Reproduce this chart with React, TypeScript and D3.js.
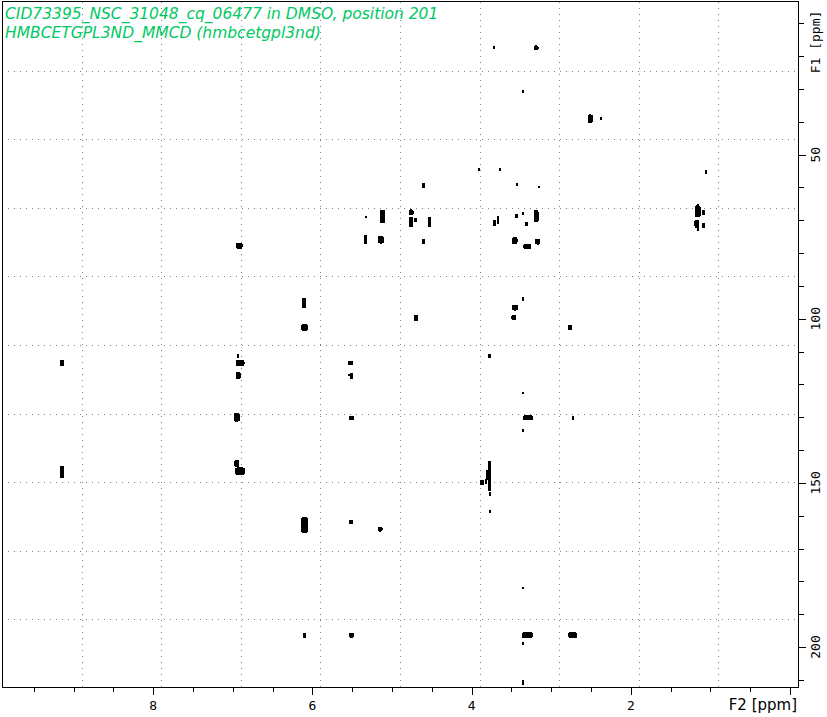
import React from "react";
import * as d3 from "d3";

// ---- data ----
const titleLines = [
  "CID73395_NSC_31048_cq_06477 in DMSO, position 201",
  "HMBCETGPL3ND_MMCD (hmbcetgpl3nd)",
];
const f2Domain = [9.9, -0.1]; // ppm (1H)
const f1Domain = [3.5, 212.5]; // ppm (13C)
const f2MajorTicks = [8, 6, 4, 2, 0];
const f2LabelTicks = [8, 6, 4, 2];
const f1MajorTicks = [50, 100, 150, 200];

// cross peaks: F2 shift, F1 shift, F2 extent, F1 extent (ppm)
const peakF2 = [
  3.72, 3.19, 3.36, 2.51, 2.38, 3.91, 3.64, 4.6, 3.43, 3.15, 1.06,
  5.33, 5.12, 4.76, 4.76, 4.7, 4.53, 5.33, 5.14, 4.61, 3.71, 3.67, 3.44, 3.36, 3.31, 3.19,
  3.46, 3.3, 3.17, 1.16, 1.085, 1.17, 1.09, 1.16, 1.16, 6.92,
  6.1, 6.1, 4.7, 3.36, 3.455, 3.47, 2.76,
  6.94, 6.91, 6.93, 5.52, 5.51, 5.54, 3.78, 3.36,
  6.95, 5.51, 3.29, 2.73, 3.36, 9.15, 9.15, 6.95, 6.91,
  6.1, 5.52, 5.15, 3.78, 3.79, 3.87, 3.82, 3.77, 3.77,
  3.355, 6.1, 5.51, 3.3, 3.355, 2.73, 3.355,
];
const peakF1 = [
  17.5, 17.5, 30.9, 39.1, 39.1, 54.6, 54.6, 59.5, 59.2, 59.8, 55.4,
  69.0, 68.8, 67.6, 70.5, 69.8, 70.4, 75.9, 75.9, 76.5, 70.9, 69.8, 68.6, 68.0, 71.2, 68.8,
  76.2, 78.0, 76.5, 67.3, 67.7, 71.1, 71.5, 65.6, 72.9, 77.8,
  95.1, 102.7, 99.8, 93.9, 96.6, 99.6, 102.7,
  111.3, 113.5, 117.3, 113.5, 117.4, 117.1, 111.3, 122.5,
  130.0, 130.2, 130.2, 130.1, 134.0, 113.5, 146.6, 144.1, 146.5,
  162.8, 161.9, 164.1, 147.9, 147.5, 149.8, 149.5, 153.5, 158.7,
  181.9, 196.4, 196.4, 196.4, 198.9, 196.4, 210.8,
];
const peakWidthF2 = [
  0.025, 0.063, 0.025, 0.063, 0.025, 0.025, 0.025, 0.038, 0.025, 0.025, 0.025,
  0.025, 0.075, 0.063, 0.05, 0.038, 0.038, 0.038, 0.075, 0.038, 0.038, 0.025, 0.038, 0.025, 0.038, 0.063,
  0.075, 0.1, 0.063, 0.075, 0.038, 0.063, 0.038, 0.025, 0.025, 0.088,
  0.05, 0.088, 0.05, 0.025, 0.075, 0.063, 0.05,
  0.025, 0.113, 0.063, 0.063, 0.038, 0.02, 0.038, 0.025,
  0.075, 0.063, 0.126, 0.025, 0.025, 0.05, 0.05, 0.063, 0.126,
  0.088, 0.05, 0.063, 0.04, 0.063, 0.038, 0.025, 0.025, 0.025,
  0.025, 0.038, 0.063, 0.138, 0.025, 0.113, 0.025,
];
const peakWidthF1 = [
  0.9, 1.5, 0.9, 2.7, 0.9, 0.9, 0.9, 1.5, 0.9, 0.6, 1.2,
  0.9, 4.0, 1.8, 3.0, 1.2, 3.0, 2.7, 2.4, 1.5, 1.8, 2.4, 1.2, 0.9, 1.2, 3.7,
  2.1, 1.8, 1.8, 3.7, 1.5, 2.4, 1.5, 0.9, 0.9, 1.8,
  3.0, 2.1, 1.8, 1.2, 1.8, 1.5, 1.5,
  1.2, 2.1, 2.1, 1.2, 1.8, 0.6, 1.2, 0.6,
  2.7, 1.2, 1.5, 1.2, 0.9, 1.8, 3.7, 2.1, 2.4,
  4.9, 1.2, 1.5, 9.1, 3.0, 1.5, 1.5, 1.2, 0.9,
  0.6, 1.5, 1.5, 1.8, 0.9, 1.8, 1.5,
];

const W = 827;
const H = 717;
const M = { left: 2, top: 2, right: 798, bottom: 688 };

export default function App() {
  const x = d3.scaleLinear().domain(f2Domain).range([M.left, M.right]);
  const y = d3.scaleLinear().domain(f1Domain).range([M.top, M.bottom]);

  const ix = d3.interpolateNumber(f2Domain[0], f2Domain[1]);
  const iy = d3.interpolateNumber(f1Domain[0], f1Domain[1]);
  const gridF2 = d3.range(1, 10).map((i) => ix(i / 10));
  const gridF1 = d3.range(1, 10).map((i) => iy(i / 10));

  const f2Ticks = d3.range(0, 20).map((i) => i * 0.5).filter((v) => x(v) >= M.left && x(v) <= M.right);
  const f1Ticks = d3.range(1, 22).map((i) => i * 10).filter((v) => y(v) >= M.top && y(v) <= M.bottom);

  const px = (v: number) => Math.round(v) + 0.5;

  const mono = "'DejaVu Sans Mono', monospace";

  return (
    <svg
      width={W}
      height={H}
      viewBox={`0 0 ${W} ${H}`}
      style={{ position: "absolute", left: 0, top: 0, background: "#fff" }}
    >
      <rect x={0} y={0} width={W} height={H} fill="#fff" />
      {/* grid */}
      <g stroke="#808080" strokeWidth={1} strokeDasharray="1 5">
        {gridF2.map((g, i) => (
          <line key={"gx" + i} x1={px(x(g))} x2={px(x(g))} y1={M.top} y2={M.bottom} />
        ))}
        {gridF1.map((g, i) => (
          <line key={"gy" + i} x1={M.left} x2={M.right} y1={px(y(g))} y2={px(y(g))} />
        ))}
      </g>

      {/* peaks */}
      <g fill="#000" shapeRendering="crispEdges">
        {peakF2.map((f2, i) => {
          const w = Math.max(1.5, Math.abs(x(f2 + peakWidthF2[i] / 2) - x(f2 - peakWidthF2[i] / 2)));
          const h = Math.max(1.5, Math.abs(y(peakF1[i] + peakWidthF1[i] / 2) - y(peakF1[i] - peakWidthF1[i] / 2)));
          const r = Math.min(w, h) > 4 ? Math.min(w, h) / 3 : 0;
          return (
            <rect
              key={"p" + i}
              x={x(f2) - w / 2}
              y={y(peakF1[i]) - h / 2}
              width={w}
              height={h}
              rx={r}
              ry={r}
            />
          );
        })}
      </g>

      {/* frame */}
      <rect
        x={M.left + 0.5}
        y={M.top - 0.5}
        width={M.right - M.left}
        height={M.bottom - M.top}
        fill="none"
        stroke="#000"
        strokeWidth={1}
      />

      {/* axis ticks */}
      <g stroke="#000" strokeWidth={1}>
        {f2Ticks.map((t) => {
          const major = f2MajorTicks.includes(t);
          return (
            <line
              key={"tx" + t}
              x1={px(x(t))}
              x2={px(x(t))}
              y1={M.bottom}
              y2={M.bottom + (major ? 7 : 4)}
            />
          );
        })}
        {f1Ticks.map((t) => {
          const major = f1MajorTicks.includes(t);
          return (
            <line
              key={"ty" + t}
              x1={M.right}
              x2={M.right + (major ? 8 : 6)}
              y1={px(y(t))}
              y2={px(y(t))}
            />
          );
        })}
      </g>

      {/* bottom labels */}
      <g fontFamily={mono} fontSize={13} fill="#000" textAnchor="middle">
        {f2LabelTicks.map((t) => (
          <text key={"lx" + t} x={x(t)} y={710}>
            {t}
          </text>
        ))}
      </g>
      <text
        x={797}
        y={710}
        textAnchor="end"
        fontFamily="'DejaVu Sans', sans-serif"
        fontSize={15}
        fill="#000"
      >
        F2 [ppm]
      </text>

      {/* right labels (rotated) */}
      <g fontFamily={mono} fontSize={13} fill="#000" textAnchor="middle">
        {f1MajorTicks.map((t) => (
          <text key={"ly" + t} transform={`translate(820,${y(t)}) rotate(-90)`}>
            {t}
          </text>
        ))}
        <text transform={`translate(820,42) rotate(-90)`}>F1 [ppm]</text>
      </g>

      {/* title */}
      <g
        fontFamily="'DejaVu Sans', sans-serif"
        fontStyle="italic"
        fontSize={15.5}
        fill="rgb(0,200,100)"
      >
        <text x={5} y={19}>
          {titleLines[0]}
        </text>
        <text x={5} y={37.5}>
          {titleLines[1]}
        </text>
      </g>
    </svg>
  );
}
